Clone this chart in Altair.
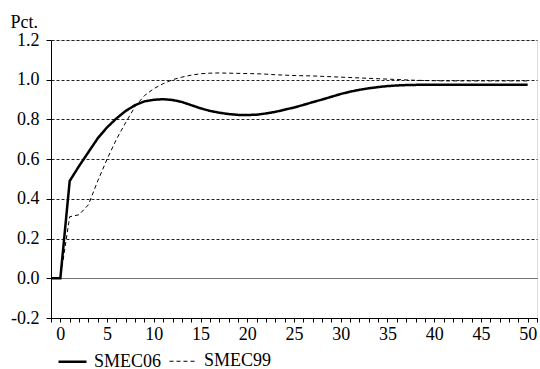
import altair as alt
import pandas as pd

x_vals = list(range(-1, 51))
smec06 = [0.0, 0.0, 0.49, 0.565, 0.635, 0.705, 0.76, 0.805, 0.843, 0.872,
          0.891, 0.899, 0.902, 0.898, 0.888, 0.872, 0.856, 0.843, 0.834, 0.827,
          0.823, 0.822, 0.824, 0.83, 0.838, 0.849, 0.86, 0.873, 0.887, 0.90,
          0.914, 0.928, 0.94, 0.949, 0.957, 0.963, 0.968, 0.971, 0.973, 0.974,
          0.975, 0.975, 0.975, 0.975, 0.975, 0.975, 0.975, 0.975, 0.975, 0.975,
          0.975, 0.975]
smec99 = [0.0, 0.0, 0.31, 0.32, 0.37, 0.49, 0.60, 0.70, 0.785, 0.865,
          0.92, 0.955, 0.98, 1.0, 1.013, 1.023, 1.03, 1.033, 1.034, 1.033,
          1.032, 1.031, 1.03, 1.028, 1.025, 1.023, 1.021, 1.02, 1.019, 1.017,
          1.015, 1.013, 1.011, 1.009, 1.007, 1.005, 1.003, 1.001, 0.999, 0.997,
          0.996, 0.995, 0.994, 0.994, 0.994, 0.994, 0.994, 0.994, 0.994, 0.994,
          0.994, 0.994]
series_names = ["SMEC06", "SMEC99"]
y_ticks = [-0.2, 0.0, 0.2, 0.4, 0.6, 0.8, 1.0, 1.2]
x_ticks = list(range(-1, 52))

df = pd.DataFrame({
    "x": x_vals * 2,
    "y": smec06 + smec99,
    "series": [series_names[0]] * len(x_vals) + [series_names[1]] * len(x_vals),
})

FONT = "Liberation Serif"
FS = 18

x_enc = alt.X(
    "x:Q",
    scale=alt.Scale(domain=[-1, 51], nice=False, zero=False),
    axis=alt.Axis(
        values=x_ticks,
        labelExpr="datum.value % 5 == 0 ? format(datum.value, 'd') : ''",
        title=None, grid=False, tickSize=4, labelPadding=3,
        domainColor="black", tickColor="black", labelColor="black",
        labelFont=FONT, labelFontSize=FS, labelFlush=False, labelOverlap=False,
    ),
)
y_enc = alt.Y(
    "y:Q",
    scale=alt.Scale(domain=[-0.2, 1.2], nice=False, zero=False),
    axis=alt.Axis(
        values=y_ticks,
        labelExpr="datum.value < -0.001 ? '-' + format(-datum.value, '.1f') : format(datum.value, '.1f')",
        title="Pct.", titleAngle=0, titleX=-41, titleY=-13, titleAlign="left",
        titleBaseline="alphabetic", titleFont=FONT, titleFontSize=FS,
        titleFontWeight="normal", titleColor="black",
        grid=True,
        gridDash={"condition": {"test": "abs(datum.value) < 0.001", "value": [1, 0]}, "value": [3, 2]},
        gridColor={"condition": {"test": "abs(datum.value) < 0.001", "value": "#444444"}, "value": "#222222"},
        gridWidth=1,
        tickSize=5, labelPadding=7, domainColor="black", tickColor="black",
        labelColor="black", labelFont=FONT, labelFontSize=FS, labelFlush=False,
        labelOverlap=False,
    ),
)

legend = alt.Legend(
    title=None, orient="none", legendX=6, legendY=306, direction="horizontal",
    symbolType="stroke", symbolSize=784, symbolStrokeColor="black",
    labelFont=FONT, labelFontSize=FS, labelColor="black", labelOffset=6,
    columnPadding=5, padding=0,
)

chart = alt.Chart(df).mark_line(color="black").encode(
    x=x_enc,
    y=y_enc,
    strokeDash=alt.StrokeDash(
        "series:N",
        scale=alt.Scale(domain=series_names, range=[[1, 0], [4, 3]]),
        legend=legend,
    ),
    strokeWidth=alt.StrokeWidth(
        "series:N",
        scale=alt.Scale(domain=series_names, range=[2.5, 1]),
        legend=legend,
    ),
).properties(
    width=486, height=278,
    autosize=alt.AutoSizeParams(type="none"),
    padding={"left": 51, "top": 40, "right": 3, "bottom": 51},
    background="white",
).configure_view(stroke=None).configure(font=FONT)

chart.save("out.html", embed_options={"renderer": "svg", "actions": False})
